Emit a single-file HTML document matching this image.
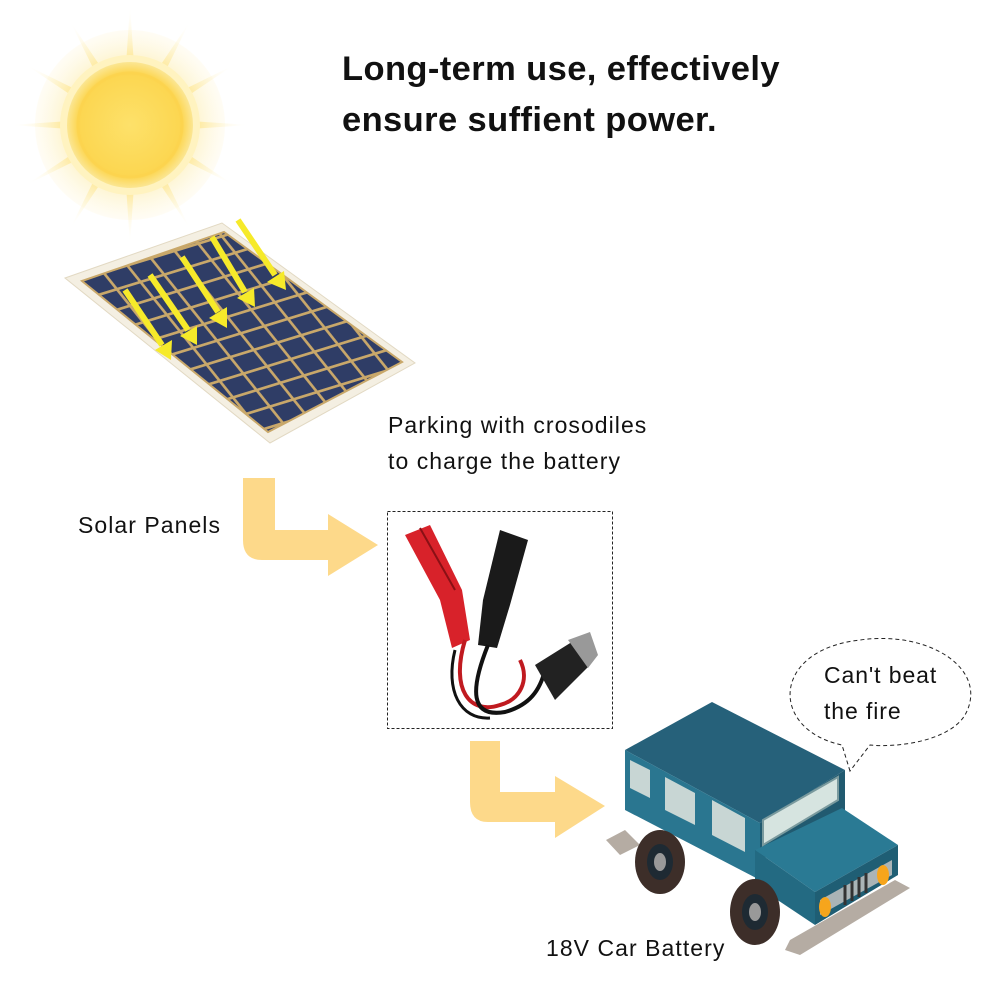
<!DOCTYPE html>
<html><head><style>
html,body{margin:0;padding:0;background:#fff;}
svg{display:block;}
text{font-family:"Liberation Sans",Arial,sans-serif;fill:#111;}
.lb{font-size:23px;letter-spacing:1.05px;}
</style></head><body>
<svg width="1000" height="1000" viewBox="0 0 1000 1000">
<defs>
<radialGradient id="sunglow" cx="130" cy="125" r="120" gradientUnits="userSpaceOnUse">
<stop offset="0.5" stop-color="#fde58a"/><stop offset="1" stop-color="#fff" stop-opacity="0"/>
</radialGradient>
<radialGradient id="sunc" cx="130" cy="125" r="65" gradientUnits="userSpaceOnUse">
<stop offset="0" stop-color="#fde16a"/><stop offset="0.8" stop-color="#fcd650"/><stop offset="1" stop-color="#fbe9a0"/>
</radialGradient>
<pattern id="cells" width="26" height="22" patternUnits="userSpaceOnUse" patternTransform="matrix(0.91,-0.28,0.6,0.75,80,280)">
<rect width="26" height="22" fill="#c9a86a"/><rect x="1.5" y="1.5" width="23" height="19" fill="#2f3d66"/>
</pattern>
</defs>
<g fill="url(#sunglow)">
<g id="ray"><polygon points="122,125 138,125 130,5"/></g>
<use href="#ray" transform="rotate(30 130 125)"/>
<use href="#ray" transform="rotate(60 130 125)"/>
<use href="#ray" transform="rotate(90 130 125)"/>
<use href="#ray" transform="rotate(120 130 125)"/>
<use href="#ray" transform="rotate(150 130 125)"/>
<use href="#ray" transform="rotate(180 130 125)"/>
<use href="#ray" transform="rotate(210 130 125)"/>
<use href="#ray" transform="rotate(240 130 125)"/>
<use href="#ray" transform="rotate(270 130 125)"/>
<use href="#ray" transform="rotate(300 130 125)"/>
<use href="#ray" transform="rotate(330 130 125)"/>
<circle cx="130" cy="125" r="95" opacity="0.5"/>
</g>
<circle cx="130" cy="125" r="70" fill="#fff3c0"/>
<circle cx="130" cy="125" r="63" fill="url(#sunc)"/>
<circle cx="130" cy="125" r="52" fill="none" stroke="#fbd24c" stroke-width="3" opacity="0.6"/>

<text x="342" y="80" font-size="34.5" font-weight="bold" letter-spacing="0.4">Long-term use, effectively</text>
<text x="342" y="131" font-size="34.5" font-weight="bold" letter-spacing="0.4">ensure suffient power.</text>

<polygon points="65,278 222,223 415,363 270,443" fill="#f4efe2" stroke="#e2d9c3"/>
<polygon points="82,281 224,232 402,362 268,432" fill="url(#cells)"/>
<polygon points="82,281 224,232 402,362 268,432" fill="none" stroke="#c9a86a" stroke-width="2"/>
<g stroke="#f6ea2a" stroke-width="6" fill="#f6ea2a">
<line x1="125" y1="290" x2="162" y2="345"/><polygon points="155,350 172,340 171,360" stroke="none"/>
<line x1="150" y1="275" x2="188" y2="330"/><polygon points="180,336 197,326 197,345" stroke="none"/>
<line x1="182" y1="257" x2="218" y2="312"/><polygon points="209,318 227,307 227,328" stroke="none"/>
<line x1="212" y1="237" x2="245" y2="292"/><polygon points="237,298 254,288 255,307" stroke="none"/>
<line x1="238" y1="220" x2="275" y2="275"/><polygon points="267,282 284,271 286,290" stroke="none"/>
</g>

<text class="lb" x="388" y="433">Parking with crosodiles</text>
<text class="lb" x="388" y="469">to charge the battery</text>
<text class="lb" x="78" y="533">Solar Panels</text>
<text class="lb" x="546" y="956">18V Car Battery</text>

<path d="M243,478 H275 V530 H328 V514 L378,545 L328,576 V560 H262 Q243,560 243,540 Z" fill="#fdd98a"/>
<path d="M470,741 H500 V792 H555 V776 L605,806 L555,838 V822 H488 Q470,822 470,802 Z" fill="#fdd98a"/>

<rect x="387.5" y="511.5" width="225" height="217" fill="none" stroke="#222" stroke-dasharray="3,2"/>
<g>
<path d="M405,535 L430,525 L462,590 L470,640 L452,648 L440,600 Z" fill="#d8222a"/>
<path d="M420,528 L455,590" stroke="#8a1015" stroke-width="2"/>
<path d="M500,530 L528,540 L510,605 L497,648 L478,645 L483,600 Z" fill="#1a1a1a"/>
<path d="M465,640 C450,690 470,715 500,705 C520,700 530,680 520,660" stroke="#c01a20" stroke-width="4" fill="none"/>
<path d="M488,645 C470,690 470,718 505,712 C530,705 540,690 545,670" stroke="#111" stroke-width="4" fill="none"/>
<path d="M455,650 C445,690 460,720 490,718" stroke="#111" stroke-width="3" fill="none"/>
<path d="M535,665 L575,640 L590,665 L555,700 Z" fill="#222"/>
<path d="M568,640 L590,632 L598,655 L588,668 Z" fill="#999"/>
</g>

<path d="M850,771 L842,745 C770,730 770,650 860,640 C930,630 990,670 965,715 C950,740 900,748 870,745 Z" fill="none" stroke="#222" stroke-dasharray="4,3"/>
<text x="824" y="683" font-size="23" letter-spacing="0.9">Can't beat</text>
<text x="824" y="719" font-size="23" letter-spacing="0.9">the fire</text>

<polygon points="606,840 625,830 640,845 620,855" fill="#b5aca3"/>
<polygon points="790,940 895,880 910,888 800,955 785,950" fill="#b5aca3"/>
<polygon points="625,750 712,702 845,770 760,823" fill="#26617a"/>
<polygon points="625,750 760,823 760,880 625,810" fill="#2a7690"/>
<polygon points="760,823 845,770 845,818 760,860" fill="#215a70"/>
<polygon points="755,850 842,808 898,845 815,892" fill="#2a7a94"/>
<polygon points="755,850 815,892 815,925 755,885" fill="#236a82"/>
<polygon points="815,892 898,845 898,875 815,925" fill="#1f5e74"/>
<polygon points="763,820 838,777 838,800 763,845" fill="#d6e4e0" stroke="#7a9a9e" stroke-width="2"/>
<polygon points="665,777 695,793 695,825 665,810" fill="#c8d6d4"/>
<polygon points="712,800 745,818 745,852 712,835" fill="#c8d6d4"/>
<polygon points="630,760 650,770 650,798 630,788" fill="#c8d6d4"/>
<polygon points="820,900 892,860 892,875 820,915" fill="#aab4b6"/>
<ellipse cx="825" cy="907" rx="6" ry="10" fill="#f6a51c"/>
<ellipse cx="883" cy="875" rx="6" ry="10" fill="#f6a51c"/>
<g stroke="#333" stroke-width="3"><line x1="845" y1="885" x2="845" y2="905"/><line x1="852" y1="881" x2="852" y2="901"/><line x1="859" y1="877" x2="859" y2="897"/><line x1="866" y1="873" x2="866" y2="893"/></g>
<ellipse cx="660" cy="862" rx="25" ry="32" fill="#3d2e29"/>
<ellipse cx="660" cy="862" rx="13" ry="18" fill="#1e2a33"/>
<ellipse cx="660" cy="862" rx="6" ry="9" fill="#999"/>
<ellipse cx="755" cy="912" rx="25" ry="33" fill="#3d2e29"/>
<ellipse cx="755" cy="912" rx="13" ry="18" fill="#1e2a33"/>
<ellipse cx="755" cy="912" rx="6" ry="9" fill="#999"/>
</svg>
</body></html>
